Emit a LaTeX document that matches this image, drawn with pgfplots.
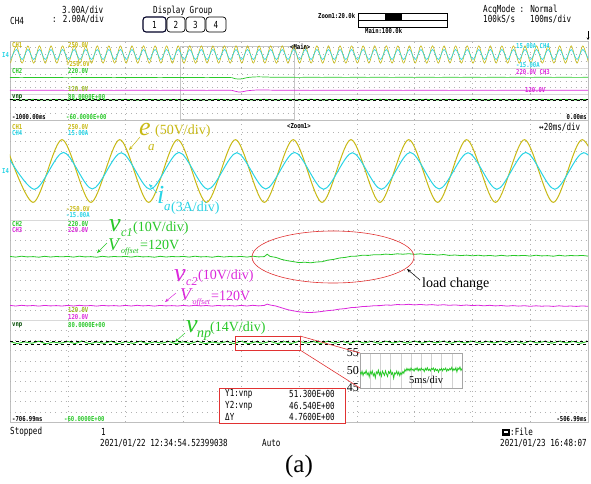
\documentclass[border=0pt]{standalone}
\usepackage{pgfplots}
\pgfplotsset{compat=1.18}
\usepackage{fontspec}
\setmainfont{Liberation Serif}
\newfontfamily\oscfont[FakeStretch=0.78]{DejaVu Sans Mono}
\newfontfamily\oscsm[FakeStretch=0.82]{DejaVu Sans Mono}
\usetikzlibrary{arrows.meta}
\definecolor{yel}{RGB}{200,185,20}
\definecolor{cya}{RGB}{40,212,230}
\definecolor{grn}{RGB}{40,200,40}
\definecolor{mag}{RGB}{220,40,220}
\definecolor{olv}{RGB}{150,185,30}
\definecolor{redl}{RGB}{225,50,50}
\newcommand{\hd}{\oscfont\fontsize{9.7}{10}\selectfont}
\newcommand{\sm}{\oscsm\bfseries\fontsize{6.8}{7}\selectfont}
\newcommand{\tl}[4]{\node[anchor=west,inner sep=0pt,text=#1] at (#2) {#3#4};}
\newcommand{\tb}[4]{\node[anchor=base west,inner sep=0pt,text=#1] at (#2) {\fontsize{#3}{#3}\selectfont #4};}
\pgfplotsset{
  scr/.style={scale only axis, width=578pt, axis line style={draw=none}, tick style={draw=none},
    xticklabels={}, yticklabels={}, grid=major,
    grid style={gray!60, line width=0.55pt, dash pattern=on 0.55pt off 4.5pt}},
  ov/.style={scr, xmin=-1000, xmax=0, xtick={-900,-800,-700,-600,-500,-400,-300,-200,-100}},
  mn/.style={scr, xmin=-706.99, xmax=-506.99,
    xtick={-686.99,-666.99,-646.99,-626.99,-606.99,-586.99,-566.99,-546.99,-526.99}},
  nogrid/.style={grid=none},
}
\begin{document}
\begin{tikzpicture}
\useasboundingbox (0,0) rectangle (591pt,-483pt);
\fill[white] (0,0) rectangle (591pt,-483pt);
\begin{scope}[x=1pt,y=-1pt]
  \draw[gray!30, line width=0.5pt] (10,68)--(588,68) (10,94)--(588,94) (10,220)--(588,220) (10,320)--(588,320);
  \draw[gray!50, line width=0.7pt] (10,41) rectangle (588,422);
  \draw[gray!50, line width=0.7pt] (10,120)--(588,120);
  \draw[gray!45, line width=0.5pt] (180,46) rectangle (294,119);
\end{scope}

%% ---------------- overview: CH1 / CH4 ----------------
\begin{axis}[ov, at={(10pt,-68pt)}, anchor=south west, height=27pt, ymin=-250, ymax=250, ytick={-125,0,125}]
\addplot[yel, line width=0.6pt, smooth] coordinates {
(-999,-160)(-989,160)(-979,-160)(-969,160)(-959,-160)(-949,160)(-939,-160)(-929,160)(-919,-160)(-909,160)
(-899,-160)(-889,160)(-879,-160)(-869,160)(-859,-160)(-849,160)(-839,-160)(-829,160)(-819,-160)(-809,160)
(-799,-160)(-789,160)(-779,-160)(-769,160)(-759,-160)(-749,160)(-739,-160)(-729,160)(-719,-160)(-709,160)
(-699,-160)(-689,160)(-679,-160)(-669,160)(-659,-160)(-649,160)(-639,-160)(-629,160)(-619,-160)(-609,160)
(-599,-160)(-589,160)(-579,-160)(-569,160)(-559,-160)(-549,160)(-539,-160)(-529,160)(-519,-160)(-509,160)
(-499,-160)(-489,160)(-479,-160)(-469,160)(-459,-160)(-449,160)(-439,-160)(-429,160)(-419,-160)(-409,160)
(-399,-160)(-389,160)(-379,-160)(-369,160)(-359,-160)(-349,160)(-339,-160)(-329,160)(-319,-160)(-309,160)
(-299,-160)(-289,160)(-279,-160)(-269,160)(-259,-160)(-249,160)(-239,-160)(-229,160)(-219,-160)(-209,160)
(-199,-160)(-189,160)(-179,-160)(-169,160)(-159,-160)(-149,160)(-139,-160)(-129,160)(-119,-160)(-109,160)
(-99,-160)(-89,160)(-79,-160)(-69,160)(-59,-160)(-49,160)(-39,-160)(-29,160)(-19,-160)(-9,160)(1,-160)};
\end{axis}
\begin{axis}[ov, nogrid, at={(10pt,-68pt)}, anchor=south west, height=27pt, ymin=-15, ymax=15]
\addplot[cya, line width=0.6pt, smooth] coordinates {
(-999,-5.6)(-989,5.6)(-979,-5.6)(-969,5.6)(-959,-5.6)(-949,5.6)(-939,-5.6)(-929,5.6)(-919,-5.6)(-909,5.6)
(-899,-5.6)(-889,5.6)(-879,-5.6)(-869,5.6)(-859,-5.6)(-849,5.6)(-839,-5.6)(-829,5.6)(-819,-5.6)(-809,5.6)
(-799,-5.6)(-789,5.6)(-779,-5.6)(-769,5.6)(-759,-5.6)(-749,5.6)(-739,-5.6)(-729,5.6)(-719,-5.6)(-709,5.6)
(-699,-5.6)(-689,5.6)(-679,-5.6)(-669,5.6)(-659,-5.6)(-649,5.6)(-639,-5.6)(-629,5.6)(-619,-5.6)(-609,5.6)
(-599,-5.6)(-589,5.6)(-579,-5.6)(-569,5.6)(-559,-5.6)(-549,5.6)(-539,-5.6)(-529,5.6)(-519,-5.6)(-509,5.6)
(-499,-5.6)(-489,5.6)(-479,-5.6)(-469,5.6)(-459,-5.6)(-449,5.6)(-439,-5.6)(-429,5.6)(-419,-5.6)(-409,5.6)
(-399,-5.6)(-389,5.6)(-379,-5.6)(-369,5.6)(-359,-5.6)(-349,5.6)(-339,-5.6)(-329,5.6)(-319,-5.6)(-309,5.6)
(-299,-5.6)(-289,5.6)(-279,-5.6)(-269,5.6)(-259,-5.6)(-249,5.6)(-239,-5.6)(-229,5.6)(-219,-5.6)(-209,5.6)
(-199,-5.6)(-189,5.6)(-179,-5.6)(-169,5.6)(-159,-5.6)(-149,5.6)(-139,-5.6)(-129,5.6)(-119,-5.6)(-109,5.6)
(-99,-5.6)(-89,5.6)(-79,-5.6)(-69,5.6)(-59,-5.6)(-49,5.6)(-39,-5.6)(-29,5.6)(-19,-5.6)(-9,5.6)(1,-5.6)};
\end{axis}

%% ---------------- overview: CH2 / CH3 ----------------
\begin{axis}[ov, at={(10pt,-94pt)}, anchor=south west, height=26pt, ymin=120, ymax=220, ytick={145,170,195}]
\addplot[grn, line width=0.7pt] coordinates {
(-1000,183.5)(-980,183.0)(-960,183.6)(-940,183.1)(-920,183.4)(-900,182.9)(-880,183.6)(-860,183.2)(-840,183.5)(-820,183.0)
(-800,183.6)(-780,183.1)(-760,183.4)(-740,183.0)(-720,183.5)(-700,183.1)(-680,183.6)(-660,183.0)(-640,183.4)(-620,183.2)
(-616,183.0)(-610,178.6)(-604,177.4)(-598,178.5)(-592,182.0)(-586,184.2)(-578,185.6)(-570,186.1)(-560,185.6)(-550,184.8)
(-540,184.3)(-520,184.4)(-500,183.9)(-480,184.4)(-460,184.0)(-440,184.5)(-420,183.9)(-400,184.3)(-380,184.0)(-360,184.5)
(-340,183.9)(-320,184.4)(-300,184.0)(-280,184.5)(-260,183.9)(-240,184.3)(-220,184.0)(-200,184.4)(-180,183.9)(-160,184.5)
(-140,184.0)(-120,184.3)(-100,183.9)(-80,184.4)(-60,184.0)(-40,184.3)(-20,183.9)(0,184.2)};
\addplot[mag, line width=0.7pt] coordinates {
(-1000,134.5)(-980,134.0)(-960,134.6)(-940,134.1)(-920,134.4)(-900,133.9)(-880,134.6)(-860,134.2)(-840,134.5)(-820,134.0)
(-800,134.6)(-780,134.1)(-760,134.4)(-740,134.0)(-720,134.5)(-700,134.1)(-680,134.6)(-660,134.0)(-640,134.4)(-620,134.3)
(-616,134.0)(-610,130.4)(-604,127.5)(-598,128.6)(-590,132.4)(-580,134.4)(-570,135.7)(-560,135.2)(-550,135.0)(-540,134.4)
(-520,134.2)(-500,134.6)(-480,134.0)(-460,134.5)(-440,134.1)(-420,134.6)(-400,134.0)(-380,134.4)(-360,134.1)(-340,134.6)
(-320,134.0)(-300,134.5)(-280,134.1)(-260,134.4)(-240,134.0)(-220,134.6)(-200,134.1)(-180,134.4)(-160,134.0)(-140,134.5)
(-120,134.1)(-100,134.6)(-80,134.0)(-60,134.4)(-40,134.1)(-20,134.5)(0,134.2)};
\end{axis}

%% ---------------- overview: vnp ----------------
\begin{axis}[ov, at={(10pt,-120pt)}, anchor=south west, height=26pt, ymin=-60, ymax=80, ytick={-25,10,45}]
\addplot[grn, line width=0.9pt] coordinates {
(-1000,50.5)(-980,47.8)(-960,50.9)(-940,47.5)(-920,50.2)(-900,48.1)(-880,50.8)(-860,47.6)(-840,50.4)(-820,47.9)
(-800,51.0)(-780,47.4)(-760,50.3)(-740,48.0)(-720,50.7)(-700,47.7)(-680,50.5)(-660,47.5)(-640,50.9)(-620,48.2)
(-600,50.6)(-580,48.3)(-560,50.9)(-540,48.1)(-520,50.7)(-500,48.4)(-480,51.0)(-460,48.2)(-440,50.6)(-420,48.5)
(-400,50.8)(-380,48.1)(-360,50.9)(-340,48.3)(-320,50.6)(-300,48.4)(-280,51.0)(-260,48.2)(-240,50.7)(-220,48.5)
(-200,50.9)(-180,48.1)(-160,50.6)(-140,48.3)(-120,50.8)(-100,48.2)(-80,50.9)(-60,48.4)(-40,50.7)(-20,48.1)(0,50.6)};
\addplot[black, line width=0.5pt, dash pattern=on 3pt off 3pt] coordinates {(-1000,51.3) (0,51.3)};
\addplot[black, line width=0.5pt, dash pattern=on 3pt off 3pt, dash phase=3pt] coordinates {(-1000,46.54) (0,46.54)};
\end{axis}

%% ---------------- main: CH1 / CH4 ----------------
\begin{axis}[mn, at={(10pt,-220pt)}, anchor=south west, height=98pt, ymin=-250, ymax=250,
  ytick={-200,-150,-100,-50,0,50,100,150,200}]
\addplot[yel, line width=1pt, smooth] coordinates {
(-709,160)(-699,-160)(-689,160)(-679,-160)(-669,160)(-659,-160)(-649,160)(-639,-160)(-629,160)(-619,-160)(-609,160)
(-599,-160)(-589,160)(-579,-160)(-569,160)(-559,-160)(-549,160)(-539,-160)(-529,160)(-519,-160)(-509,160)(-499,-160)};
\end{axis}
\begin{axis}[mn, nogrid, at={(10pt,-220pt)}, anchor=south west, height=98pt, ymin=-15, ymax=15]
\addplot[cya, line width=1pt, smooth] coordinates {
(-708.5,5.6)(-698.5,-5.6)(-688.5,5.7)(-678.5,-5.5)(-668.5,5.6)(-658.5,-5.6)(-648.5,5.7)(-638.5,-5.6)(-628.5,5.6)(-618.5,-5.5)(-608.5,5.7)
(-598.5,-5.6)(-588.5,5.6)(-578.5,-5.6)(-568.5,5.7)(-558.5,-5.5)(-548.5,5.6)(-538.5,-5.6)(-528.5,5.7)(-518.5,-5.6)(-508.5,5.6)(-498.5,-5.6)};
\end{axis}

%% ---------------- main: CH2 / CH3 ----------------
\begin{axis}[mn, at={(10pt,-320pt)}, anchor=south west, height=100pt, ymin=120, ymax=220,
  ytick={130,140,150,160,170,180,190,200,210}]
\addplot[grn, line width=0.8pt] coordinates {
(-707,183.6)(-705,182.9)(-703,183.8)(-701,183.1)(-699,183.4)(-697,182.8)(-695,183.7)(-693,183.0)(-691,183.5)(-689,183.2)
(-687,183.6)(-685,182.9)(-683,183.8)(-681,183.1)(-679,183.4)(-677,182.8)(-675,183.7)(-673,183.0)(-671,183.5)(-669,183.2)
(-667,183.6)(-665,182.9)(-663,183.8)(-661,183.1)(-659,183.4)(-657,182.8)(-655,183.7)(-653,183.0)(-651,183.5)(-649,183.2)
(-647,183.6)(-645,182.9)(-643,183.8)(-641,183.1)(-639,183.4)(-637,182.8)(-635,183.7)(-633,183.0)(-631,183.5)(-629,183.2)
(-627,183.6)(-625,182.9)(-623,183.8)(-621,183.1)(-619,183.4)(-618,185.8)(-617,183.6)(-615,182.6)(-613,180.6)(-611,179.3)
(-609,178.4)(-607,177.4)(-605,177.8)(-603,177.2)(-601,178.0)(-599,178.3)(-597,179.9)(-595,180.6)(-593,182.0)(-591,182.6)
(-589,183.7)(-587,183.9)(-585,184.8)(-583,184.6)(-581,185.3)(-579,185.2)(-577,185.9)(-575,185.5)(-573,186.2)(-571,185.8)
(-569,186.3)(-567,185.7)(-565,186.2)(-563,185.5)(-561,185.7)(-559,184.9)(-557,185.5)(-555,184.6)(-553,185.0)(-551,184.4)
(-549,184.9)(-547,184.2)(-545,184.8)(-543,184.1)(-541,184.6)(-539,183.9)(-537,184.7)(-535,184.0)(-533,184.5)(-531,184.3)
(-529,184.6)(-527,183.9)(-525,184.8)(-523,184.1)(-521,184.4)(-519,183.8)(-517,184.7)(-515,184.0)(-513,184.5)(-511,184.2)
(-509,184.6)(-507,183.9)};
\addplot[mag, line width=0.8pt] coordinates {
(-707,134.6)(-705,134.0)(-703,134.7)(-701,134.1)(-699,134.5)(-697,133.9)(-695,134.6)(-693,134.1)(-691,134.4)(-689,134.0)
(-687,134.6)(-685,134.0)(-683,134.7)(-681,134.1)(-679,134.5)(-677,133.9)(-675,134.6)(-673,134.1)(-671,134.4)(-669,134.0)
(-667,134.6)(-665,134.0)(-663,134.7)(-661,134.1)(-659,134.5)(-657,133.9)(-655,134.6)(-653,134.1)(-651,134.4)(-649,134.0)
(-647,134.6)(-645,134.0)(-643,134.7)(-641,134.1)(-639,134.5)(-637,133.9)(-635,134.6)(-633,134.1)(-631,134.4)(-629,134.0)
(-627,134.6)(-625,134.0)(-623,134.7)(-621,134.1)(-619,134.6)(-618,135.9)(-617,135.0)(-615,134.0)(-613,132.2)(-611,130.4)
(-609,129.2)(-607,128.2)(-605,127.7)(-603,127.5)(-601,127.9)(-599,128.6)(-597,129.4)(-595,129.9)(-593,130.9)(-591,131.4)
(-589,132.4)(-587,132.7)(-585,133.5)(-583,133.7)(-581,134.3)(-579,134.4)(-577,135.0)(-575,134.8)(-573,135.5)(-571,135.2)
(-569,135.7)(-567,135.1)(-565,135.6)(-563,135.0)(-561,135.4)(-559,134.8)(-557,135.3)(-555,134.7)(-553,135.1)(-551,134.5)
(-549,135.0)(-547,134.4)(-545,134.8)(-543,134.2)(-541,134.7)(-539,134.1)(-537,134.5)(-535,133.9)(-533,134.4)(-531,133.9)
(-529,134.3)(-527,133.7)(-525,134.2)(-523,133.8)(-521,134.1)(-519,133.6)(-517,134.2)(-515,133.7)(-513,134.0)(-511,133.6)
(-509,134.1)(-507,133.7)};
\end{axis}

%% ---------------- main: vnp ----------------
\begin{axis}[mn, at={(10pt,-422pt)}, anchor=south west, height=102pt, ymin=-60, ymax=80,
  ytick={-46,-32,-18,-4,10,24,38,52,66}]
\addplot[grn, line width=0.9pt] coordinates {
(-707,50.6)(-704.5,47.6)(-702,50.1)(-699.5,48.1)(-697,50.9)(-694.5,47.3)(-692,49.8)(-689.5,48.2)(-687,50.5)(-684.5,47.7)
(-682,51.0)(-679.5,47.5)(-677,49.9)(-674.5,48.0)(-672,50.7)(-669.5,47.4)(-667,50.3)(-664.5,47.9)(-662,50.8)(-659.5,47.6)
(-657,50.0)(-654.5,48.2)(-652,50.6)(-649.5,47.3)(-647,50.2)(-644.5,47.8)(-642,50.9)(-639.5,47.5)(-637,49.8)(-634.5,48.1)
(-632,50.5)(-629.5,47.6)(-627,50.8)(-624.5,47.4)(-622,50.1)(-619.5,48.0)(-617,50.7)(-614.5,47.7)(-612,50.3)(-609.5,47.9)
(-607,50.9)(-604.5,48.3)(-602,50.4)(-599.5,47.8)(-597,50.8)(-594.5,48.2)(-592,50.6)(-589.5,48.0)(-587,51.0)(-584.5,48.4)
(-582,50.7)(-579.5,48.1)(-577,50.9)(-574.5,48.5)(-572,50.6)(-569.5,48.2)(-567,51.1)(-564.5,48.3)(-562,50.8)(-559.5,48.6)
(-557,50.9)(-554.5,48.1)(-552,50.7)(-549.5,48.4)(-547,51.0)(-544.5,48.2)(-542,50.6)(-539.5,48.5)(-537,50.9)(-534.5,48.3)
(-532,50.8)(-529.5,48.0)(-527,51.1)(-524.5,48.4)(-522,50.7)(-519.5,48.2)(-517,50.9)(-514.5,48.5)(-512,50.6)(-509.5,48.1)(-507,50.8)};
\addplot[black, line width=0.5pt, dash pattern=on 3pt off 3pt] coordinates {(-706.99,51.3) (-506.99,51.3)};
\addplot[black, line width=0.5pt, dash pattern=on 3pt off 3pt, dash phase=3pt] coordinates {(-706.99,46.54) (-506.99,46.54)};
\end{axis}

%% ---------------- inset ----------------
\begin{axis}[at={(360pt,-388pt)}, anchor=south west, scale only axis, width=102pt, height=35pt,
  xmin=0, xmax=50, ymin=45, ymax=55, xtick={5,10,15,20,25,30,35,40,45}, xticklabels={},
  ytick={45,50,55}, tick style={draw=none}, xmajorgrids, ymajorgrids=false,
  grid style={gray!35, line width=0.4pt}, axis line style={gray!70, line width=0.5pt},
  axis background/.style={fill=white},
  yticklabel style={font=\fontsize{12}{12}\selectfont, inner sep=1pt},
  /pgf/number format/assume math mode=true]
\addplot[grn, line width=0.8pt] coordinates {
(0,49.6)(0.5,48.9)(1,49.8)(1.5,48.6)(2,49.5)(2.5,49.1)(3,50.0)(3.5,48.8)(4,49.4)(4.5,48.2)
(5,49.7)(5.5,49.0)(6,49.9)(6.5,48.5)(7,49.2)(7.5,47.9)(8,49.6)(8.5,49.1)(9,50.1)(9.5,48.7)
(10,49.5)(10.5,48.4)(11,49.8)(11.5,49.2)(12,48.6)(12.5,49.9)(13,49.0)(13.5,48.3)(14,49.7)(14.5,49.2)
(15,50.0)(15.5,48.9)(16,49.4)(16.5,47.8)(17,49.3)(17.5,49.0)(18,49.8)(18.5,48.8)(19,49.6)(19.5,48.5)
(20,49.4)(20.5,48.9)(21,49.7)(21.5,49.2)(22,50.3)(22.5,49.8)(23,50.6)(23.5,50.0)(24,50.5)(24.5,49.9)
(25,50.7)(25.5,50.1)(26,50.4)(26.5,49.8)(27,50.6)(27.5,50.2)(28,50.8)(28.5,49.9)(29,50.5)(29.5,50.0)
(30,50.7)(30.5,50.2)(31,50.4)(31.5,49.7)(32,50.6)(32.5,50.1)(33,50.8)(33.5,50.0)(34,50.4)(34.5,49.9)
(35,50.6)(35.5,50.3)(36,50.7)(36.5,49.8)(37,50.5)(37.5,50.0)(38,50.3)(38.5,49.5)(39,50.4)(39.5,50.1)
(40,50.6)(40.5,49.9)(41,50.5)(41.5,50.2)(42,50.7)(42.5,49.8)(43,50.4)(43.5,50.0)(44,50.6)(44.5,50.2)
(45,50.9)(45.5,49.9)(46,50.5)(46.5,50.1)(47,50.8)(47.5,49.6)(48,50.7)(48.5,50.3)(49,51.0)(49.5,50.0)(50,50.6)};
\end{axis}

\begin{scope}[x=1pt,y=-1pt]
  %% header
  \tl{black}{62,10}{\hd}{3.00A/div}
  \tl{black}{10,21}{\hd}{CH4}
  \tl{black}{52,19.5}{\hd}{: 2.00A/div}
  \tl{black}{153,10.5}{\hd}{Display Group}
  \draw[black!85!blue, line width=1.1pt, rounded corners=3pt] (143,17) rectangle (166,32);
  \draw[black, line width=0.7pt, rounded corners=3pt] (167,17) rectangle (185,32);
  \draw[black, line width=0.7pt, rounded corners=3pt] (186,17) rectangle (205,32);
  \draw[black, line width=0.7pt, rounded corners=3pt] (206,17) rectangle (226,32);
  \node[inner sep=0pt] at (154.5,24.5) {\hd 1};
  \node[inner sep=0pt] at (176,24.5) {\hd 2};
  \node[inner sep=0pt] at (195.5,24.5) {\hd 3};
  \node[inner sep=0pt] at (216,24.5) {\hd 4};
  \tl{black}{318,16}{\sm}{Zoom1:20.0k}
  \draw[black, line width=0.5pt] (358,13) rectangle (447,27);
  \draw[black, line width=0.5pt] (358,20)--(447,20);
  \fill[black] (385,13.5) rectangle (402,20);
  \tl{black}{365,30.5}{\sm}{Main:100.0k}
  \tl{black}{483,10}{\hd}{AcqMode : Normal}
  \tl{black}{483,19.5}{\hd}{100kS/s}
  \tl{black}{530,19.5}{\hd}{100ms/div}
  \draw[black, line width=0.5pt, -{Stealth[length=2.5pt,width=2.5pt]}] (588,31)--(588,40);
  %% overview labels
  \tl{yel}{12,45}{\sm}{CH1}
  \tl{yel}{68,45}{\sm}{250.0V}
  \tl{yel}{66,64}{\sm}{-250.0V}
  \tl{black}{290,47}{\sm}{<Main>}
  \tl{cya}{516,46}{\sm}{15.00A CH4}
  \tl{cya}{516,65}{\sm}{-15.00A}
  \tl{grn}{12,71.5}{\sm}{CH2}
  \tl{grn}{68,71.5}{\sm}{220.0V}
  \tl{mag}{516,72}{\sm}{220.0V CH3}
  \tl{olv}{68,89}{\sm}{120.0V}
  \tl{mag}{525,90}{\sm}{120.0V}
  \tl{black!70!green}{12,97}{\sm}{vnp}
  \tl{grn}{68,97}{\sm}{80.0000E+00}
  \tl{black}{12,117}{\sm}{-1000.00ms}
  \tl{grn}{66,117}{\sm}{-60.0000E+00}
  \node[anchor=east,inner sep=0pt] at (587,117) {\sm 0.00ms};
  \tl{cya}{2,55}{\sm}{I4}
  %% main labels
  \tl{black}{287,126}{\sm}{<Zoom1>}
  \tl{black}{539,127}{\hd}{↔20ms/div}
  \tl{yel}{12,127}{\sm}{CH1}
  \tl{yel}{68,127}{\sm}{250.0V}
  \tl{cya}{12,133}{\sm}{CH4}
  \tl{cya}{68,133}{\sm}{15.00A}
  \tl{yel}{66,209}{\sm}{-250.0V}
  \tl{cya}{66,215.5}{\sm}{-15.00A}
  \tl{cya}{2,171}{\sm}{I4}
  \tl{grn}{12,224}{\sm}{CH2}
  \tl{grn}{68,224}{\sm}{220.0V}
  \tl{mag}{12,230.5}{\sm}{CH3}
  \tl{mag}{68,230.5}{\sm}{220.0V}
  \tl{olv}{68,310.5}{\sm}{120.0V}
  \tl{mag}{68,317}{\sm}{120.0V}
  \tl{black!70!green}{12,325}{\sm}{vnp}
  \tl{grn}{68,325}{\sm}{80.0000E+00}
  \tl{black}{12,419.5}{\sm}{-706.99ms}
  \tl{grn}{64,419.5}{\sm}{-60.0000E+00}
  \node[anchor=east,inner sep=0pt] at (587,419.5) {\sm -506.99ms};
  %% annotations: e_a
  \tb{yel}{139,135}{26}{\itshape e}
  \tb{yel}{148,150}{13}{\itshape a}
  \tb{yel}{155,134}{14}{(50V/div)}
  \draw[yel, line width=0.5pt, -{Stealth[length=4pt,width=3pt]}] (140,137)--(129,150);
  %% i_a
  \tb{cya}{157,203}{26}{\itshape i}
  \tb{cya}{164,210}{13}{\itshape a}
  \tb{cya}{171,211}{14}{(3A/div)}
  \draw[cya, line width=0.5pt, -{Stealth[length=4pt,width=3pt]}] (157,193)--(149,184);
  %% v_c1
  \tb{grn}{109,231}{26}{\itshape v}
  \tb{grn}{121,236}{12}{\itshape c1}
  \tb{grn}{133,231}{14}{(10V/div)}
  \tb{grn}{108,250}{18}{\itshape V}
  \tb{grn}{121,253.5}{8}{\itshape offset}
  \tb{grn}{140,249.5}{14}{=120V}
  \draw[grn, line width=0.5pt, -{Stealth[length=4pt,width=3pt]}] (107,243)--(97,253);
  %% v_c2
  \tb{mag}{174,281}{26}{\itshape v}
  \tb{mag}{186,285.5}{12}{\itshape c2}
  \tb{mag}{198,279}{14}{(10V/div)}
  \tb{mag}{180,300.5}{18}{\itshape V}
  \tb{mag}{192.5,304}{8}{\itshape offset}
  \tb{mag}{211,300}{14}{=120V}
  \draw[mag, line width=0.5pt, -{Stealth[length=4pt,width=3pt]}] (176,293)--(165,302);
  %% v_np
  \tb{grn}{186,332}{26}{\itshape v}
  \tb{grn}{197,337}{14}{\itshape np}
  \tb{grn}{210,331}{14}{(14V/div)}
  \draw[grn, line width=0.5pt, -{Stealth[length=4pt,width=3pt]}] (185,333)--(175,342);
  %% load change
  \draw[redl, line width=0.6pt] (333,257) ellipse [x radius=81, y radius=26];
  \tb{black}{422,287}{14}{load change}
  \draw[black, line width=0.5pt, -{Stealth[length=4pt,width=3pt]}] (420,280)--(407,269);
  %% zoom box and inset links
  \draw[redl, line width=0.6pt] (235,336) rectangle (300,350);
  \draw[redl, line width=0.6pt] (300,336)--(360,353) (300,350)--(360,388);
  \tb{black}{409,383}{10.5}{5ms/div}
  %% cursor box
  \draw[redl, line width=0.9pt, fill=white] (219,388) rectangle (345,423);
  \tl{black}{225,393.5}{\hd}{Y1:vnp}
  \tl{black}{289,393.5}{\hd}{51.300E+00}
  \tl{black}{225,405.5}{\hd}{Y2:vnp}
  \tl{black}{289,405.5}{\hd}{46.540E+00}
  \tl{black}{225,417}{\hd}{ΔY}
  \tl{black}{289,417}{\hd}{4.7600E+00}
  %% footer
  \tl{black}{10,432}{\hd}{Stopped}
  \tl{black}{101,432}{\hd}{1}
  \tl{black}{100,443.5}{\hd}{2021/01/22 12:34:54.52399038}
  \tl{black}{262,443.5}{\hd}{Auto}
  \fill[black] (502,429) rectangle (510,436);
  \fill[white] (504,430.5) rectangle (508,432.5);
  \tl{black}{510,432}{\hd}{:File}
  \tl{black}{500,443.5}{\hd}{2021/01/23 16:48:07}
  \node[anchor=center,inner sep=0pt] at (299,466) {\fontsize{25}{25}\selectfont (a)};
\end{scope}
\end{tikzpicture}
\end{document}
